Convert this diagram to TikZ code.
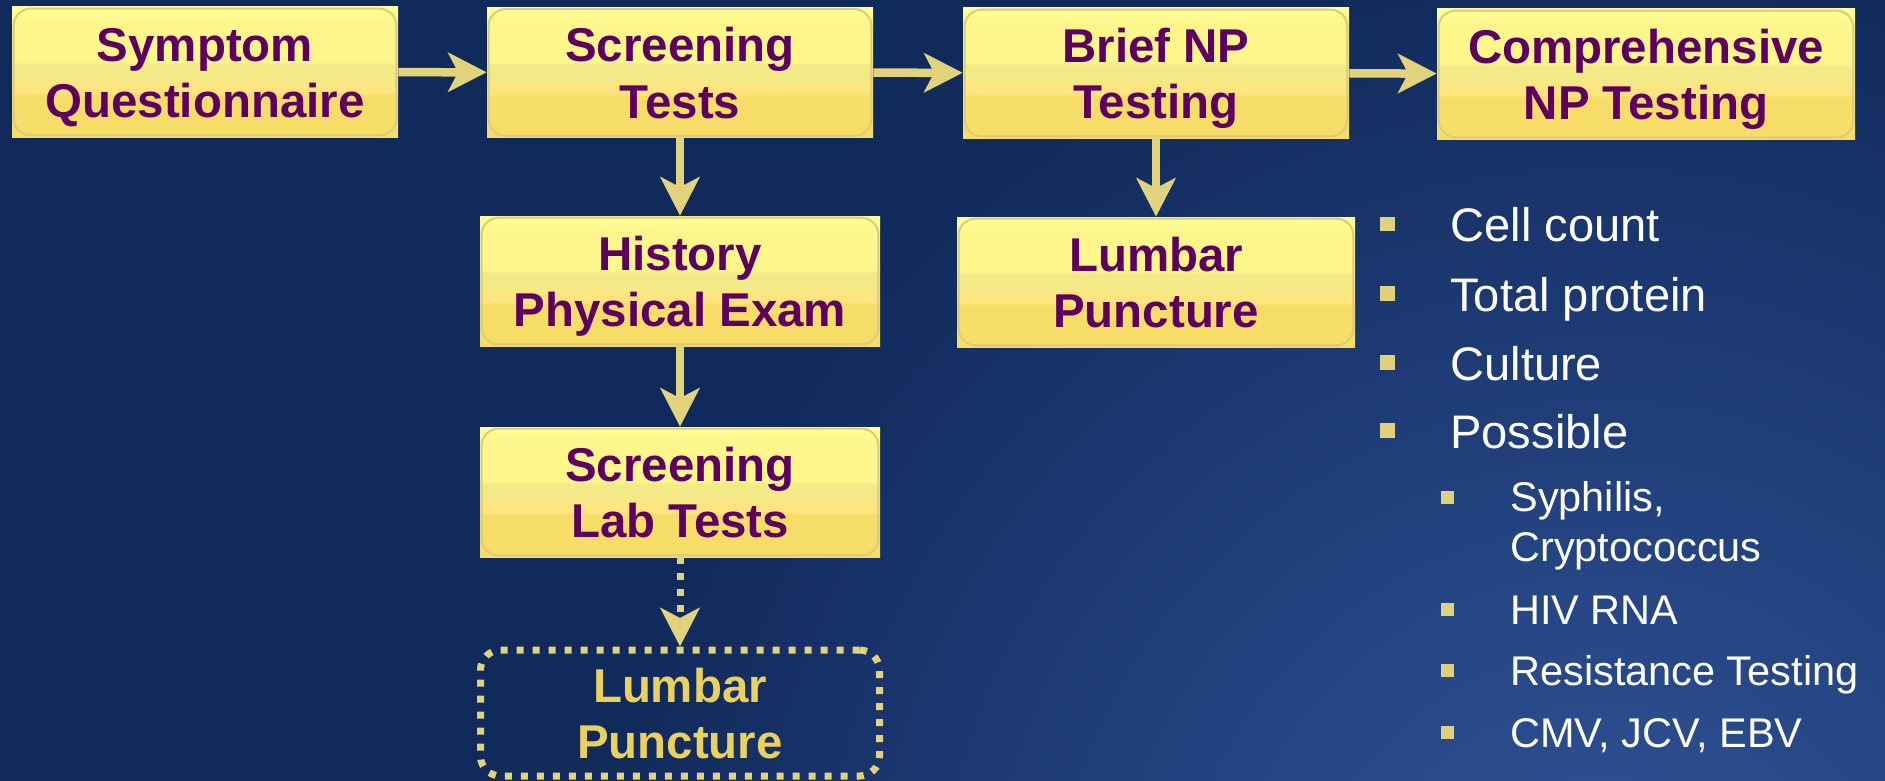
\documentclass[tikz,border=0pt]{standalone}
\usepackage{fontspec}
\setmainfont{Liberation Sans}
\usetikzlibrary{arrows.meta}

\definecolor{bgdark}{HTML}{112A5C}
\definecolor{bglite}{HTML}{31559A}
\definecolor{ytop}{HTML}{FFFF99}
\definecolor{ymid}{HTML}{FDF68B}
\definecolor{yband}{HTML}{F2EA86}
\definecolor{yor}{HTML}{FFE580}
\definecolor{ybot}{HTML}{F6DD68}
\definecolor{rimc}{HTML}{DCCB7C}
\definecolor{arrowc}{HTML}{E2D27B}
\definecolor{txtpurple}{HTML}{5E0060}
\definecolor{lptext}{HTML}{EAD05C}
\definecolor{bulc}{HTML}{DFD07C}

\pgfdeclareverticalshading{boxshade}{100bp}{color(0bp)=(ybot); color(41bp)=(ybot); color(42bp)=(yor); color(46bp)=(yor); color(47bp)=(yband); color(53bp)=(yband); color(54bp)=(ymid); color(69bp)=(ymid); color(75bp)=(ytop); color(100bp)=(ytop)}

\newcommand\lnstrut{\rule[-6.1pt]{0pt}{31.9pt}}

\begin{document}
\begin{tikzpicture}[font=\fontsize{27pt}{32.1pt}\selectfont\bfseries,
box/.style={shade,shading=boxshade,minimum width=7.72cm,minimum height=2.6cm,inner sep=0pt,align=center,text=txtpurple},
optbox/.style={draw=arrowc,line width=0.14cm,dash pattern=on 0.14cm off 0.18cm,rounded corners=0.4cm,minimum width=7.98cm,minimum height=2.52cm,inner sep=0pt,align=center,text=lptext},
rim/.style={draw=rimc,line width=0.04cm,rounded corners=0.34cm},
flow/.style={-{Stealth[length=0.77cm,width=0.78cm,inset=0.2cm]},line width=0.17cm,draw=arrowc},
blt/.style={fill=bulc,minimum size=0.29cm,inner sep=0pt},
sblt/.style={fill=bulc,minimum size=0.26cm,inner sep=0pt},
itm/.style={anchor=base west,inner sep=0pt,text=white,font=\fontsize{26.8pt}{32pt}\selectfont\mdseries},
sitm/.style={anchor=base west,inner sep=0pt,text=white,font=\fontsize{23.6pt}{28pt}\selectfont\mdseries}]
\useasboundingbox (0,0) rectangle (37.7,-15.62);
% background
\fill[bgdark] (0,0) rectangle (37.7,-15.62);
\begin{scope}
\clip (0,0) rectangle (37.7,-15.62);
\shade[inner color=bglite,outer color=bgdark] (32,-19) circle (20);
\end{scope}
% boxes
\node[box] (symq) at (4.10,-1.44) {\lnstrut Symptom\\\lnstrut Questionnaire};
\node[box] (scrt) at (13.60,-1.45) {\lnstrut Screening\\\lnstrut Tests};
\node[box] (brnp) at (23.12,-1.46) {\lnstrut Brief NP\\\lnstrut Testing};
\node[box,minimum width=8.36cm] (cmnp) at (32.92,-1.48) {\lnstrut Comprehensive\\\lnstrut NP Testing};
\node[box,minimum width=8.0cm] (hist) at (13.60,-5.62) {\lnstrut History\\\lnstrut Physical Exam};
\node[box,minimum width=8.0cm] (sclt) at (13.60,-9.84) {\lnstrut Screening\\\lnstrut Lab Tests};
\node[box,minimum width=7.96cm] (lpr) at (23.12,-5.64) {\lnstrut Lumbar\\\lnstrut Puncture};
\node[optbox] (lpopt) at (13.60,-14.26) {\lnstrut Lumbar\\\lnstrut Puncture};
\foreach \b in {symq,scrt,brnp,cmnp,hist,sclt,lpr}
  \draw[rim] ([shift={(0.04,-0.04)}]\b.north west) rectangle ([shift={(-0.04,0.04)}]\b.south east);
% arrows
\draw[flow] (symq) -- (scrt);
\draw[flow] (scrt) -- (brnp);
\draw[flow] (brnp) -- (cmnp);
\draw[flow] (scrt) -- (hist);
\draw[flow] (hist) -- (sclt);
\draw[flow] (brnp) -- (lpr);
\draw[flow,line width=0.14cm,dash pattern=on 0.14cm off 0.18cm] (sclt) -- (lpopt);
% CSF list
\node[blt] (b1) at (27.75,-4.48) {};
\node[itm] (t1) at (29.00,-4.834) {Cell count};
\node[blt] (b2) at (27.75,-5.866) {};
\node[itm] (t2) at (29.00,-6.22) {Total protein};
\node[blt] (b3) at (27.75,-7.246) {};
\node[itm] (t3) at (29.00,-7.60) {Culture};
\node[blt] (b4) at (27.75,-8.612) {};
\node[itm] (t4) at (29.00,-8.966) {Possible};
\node[sblt] (s1) at (28.94,-9.94) {};
\node[sitm] (u1) at (30.20,-10.234) {Syphilis,};
\node[sitm] (u1b) at (30.20,-11.234) {Cryptococcus};
\node[sblt] (s2) at (28.94,-12.18) {};
\node[sitm] (u2) at (30.20,-12.486) {HIV RNA};
\node[sblt] (s3) at (28.94,-13.40) {};
\node[sitm] (u3) at (30.20,-13.714) {Resistance Testing};
\node[sblt] (s4) at (28.94,-14.654) {};
\node[sitm] (u4) at (30.20,-14.946) {CMV, JCV, EBV};
\end{tikzpicture}
\end{document}
